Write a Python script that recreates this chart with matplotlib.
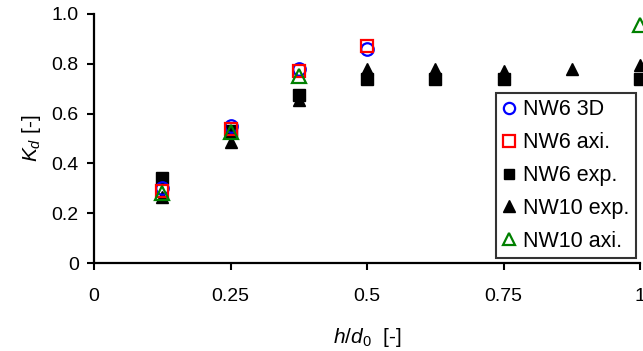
import matplotlib
matplotlib.use("Agg")
import matplotlib.pyplot as plt

plt.rcParams["font.family"] = ["Liberation Sans", "DejaVu Sans"]
plt.rcParams["mathtext.fontset"] = "custom"
plt.rcParams["mathtext.rm"] = "Liberation Sans"
plt.rcParams["mathtext.it"] = "Liberation Sans:italic"

# h/d0 positions and Kd values
x_nw6_3d = [0.125, 0.25, 0.375, 0.5]
k_nw6_3d = [0.30, 0.55, 0.78, 0.86]

x_nw6_axi = [0.125, 0.25, 0.375, 0.5]
k_nw6_axi = [0.29, 0.54, 0.77, 0.87]

x_nw6_exp = [0.125, 0.25, 0.375, 0.5, 0.625, 0.75, 1.0]
k_nw6_exp = [0.34, 0.53, 0.675, 0.74, 0.74, 0.74, 0.74]

x_nw10_exp = [0.125, 0.25, 0.375, 0.5, 0.625, 0.75, 0.875, 1.0]
k_nw10_exp = [0.265, 0.485, 0.655, 0.78, 0.78, 0.77, 0.78, 0.795]

x_nw10_axi = [0.125, 0.25, 0.375, 1.0]
k_nw10_axi = [0.28, 0.525, 0.75, 0.955]

x_ticks = [0, 0.25, 0.5, 0.75, 1.0]
x_tick_labels = ["0", "0.25", "0.5", "0.75", "1"]
y_ticks = [0, 0.2, 0.4, 0.6, 0.8, 1.0]
y_tick_labels = ["0", "0.2", "0.4", "0.6", "0.8", "1.0"]

fig = plt.figure(figsize=(6.43, 3.51), dpi=100)
ax = fig.add_axes([94 / 643, 1 - 263 / 351, 546 / 643, 249 / 351])

ax.plot(x_nw6_exp, k_nw6_exp, "s", color="black", ms=8, zorder=3,
        clip_on=False, label="NW6 exp.")
ax.plot(x_nw10_exp, k_nw10_exp, "^", color="black", ms=9, zorder=3,
        clip_on=False, label="NW10 exp.")
ax.plot(x_nw6_3d, k_nw6_3d, "o", mfc="none", mec="blue", mew=1.6, ms=9,
        zorder=4, clip_on=False, label="NW6 3D")
ax.plot(x_nw6_axi, k_nw6_axi, "s", mfc="none", mec="red", mew=1.6, ms=9,
        zorder=5, clip_on=False, label="NW6 axi.")
ax.plot(x_nw10_axi, k_nw10_axi, "^", mfc="none", mec="green", mew=1.6,
        ms=10, zorder=6, clip_on=False, label="NW10 axi.")

ax.set_xlim(0, 1)
ax.set_ylim(0, 1)
ax.set_xticks(x_ticks)
ax.set_xticklabels(x_tick_labels)
ax.set_yticks(y_ticks)
ax.set_yticklabels(y_tick_labels)
ax.tick_params(labelsize=14, width=1.5, length=5, direction="out")
ax.tick_params(axis="x", pad=13)
ax.tick_params(axis="y", pad=6)

for side in ["top", "right"]:
    ax.spines[side].set_visible(False)
for side in ["left", "bottom"]:
    ax.spines[side].set_linewidth(1.6)

ax.set_xlabel(r"$h/d_{\mathit{0}}$  [-]", fontsize=15, labelpad=15)
ax.set_ylabel(r"$K_d$ [-]", fontsize=15, labelpad=6)

handles, labels = ax.get_legend_handles_labels()
order = ["NW6 3D", "NW6 axi.", "NW6 exp.", "NW10 exp.", "NW10 axi."]
hmap = dict(zip(labels, handles))
leg = ax.legend([hmap[k] for k in order], order, loc="upper left",
                bbox_to_anchor=(0.736, 0.683), fontsize=15.5, frameon=True,
                fancybox=False, edgecolor="black", handlelength=0.65,
                handletextpad=0.3, borderpad=0.3, labelspacing=0.55,
                borderaxespad=0, markerscale=0.9)
leg.get_frame().set_linewidth(1.5)
leg.set_zorder(10)

fig.savefig("out.png", dpi=100)
